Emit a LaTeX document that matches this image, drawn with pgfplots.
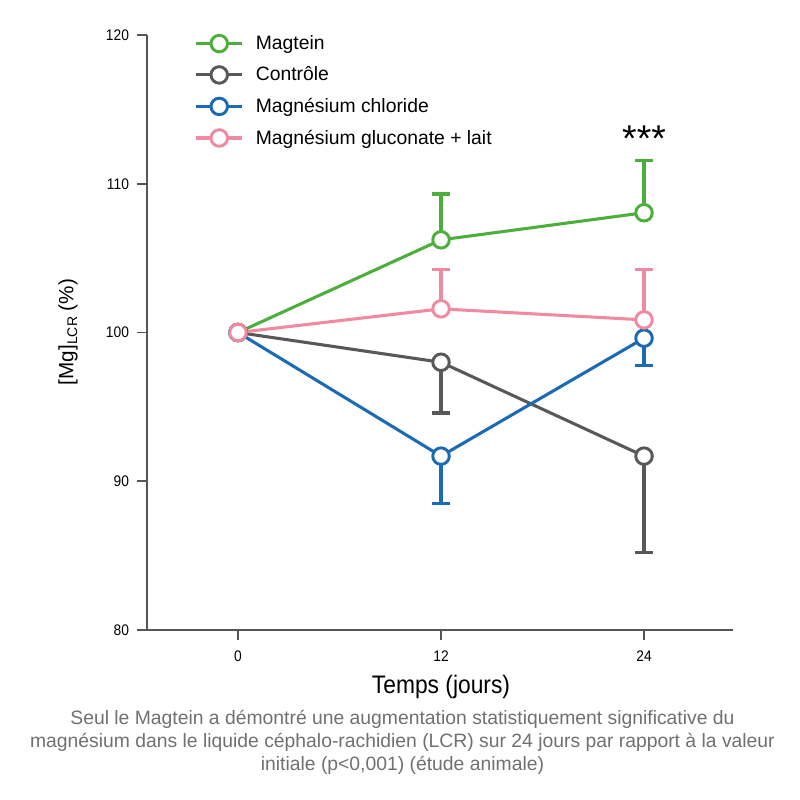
\documentclass[border=0pt]{standalone}
\usepackage{pgfplots}
\pgfplotsset{compat=1.18}
\usepackage{fontspec}
\setmainfont{Liberation Sans}
\newfontfamily\condfont{Liberation Sans}[FakeStretch=0.9]
\definecolor{cgreen}{HTML}{4CAE3B}
\definecolor{cgray}{HTML}{5A5857}
\definecolor{cblue}{HTML}{1A6AB4}
\definecolor{cpink}{HTML}{F08AA0}
\definecolor{axgray}{HTML}{555555}
\definecolor{captgray}{HTML}{707070}
\begin{document}
\begin{tikzpicture}
\useasboundingbox (-110.25pt,-127.5pt) rectangle (489.75pt,472.5pt);
\begin{axis}[
  at={(0pt,0pt)}, anchor=south west, scale only axis,
  width=439.5pt, height=446.25pt,
  xmin=-5.38, xmax=29.26, ymin=80, ymax=120,
  axis lines*=left,
  axis line style={axgray, line width=1.4pt},
  xtick={0,12,24}, ytick={80,90,100,110,120},
  tick align=outside, major tick length=7.5pt,
  tick style={axgray, line width=1.2pt},
  ticklabel style={font=\condfont\fontsize{11.5}{13}\selectfont, text=black},
  xticklabel style={yshift=-4.5pt},
  yticklabel style={xshift=-2.5pt},
  /pgf/number format/assume math mode=true,
  xlabel={Temps (jours)},
  xlabel style={font=\condfont\fontsize{19}{21}\selectfont, at={(rel axis cs:0.5017,0)}, anchor=center, yshift=-42.75pt},
  ylabel={[Mg]\raisebox{-0.35ex}{\fontsize{10.5}{11}\selectfont LCR} (\%)},
  ylabel style={font=\fontsize{15.5}{17}\selectfont, at={(axis description cs:-0.1348,0.5008)}, anchor=center},
  legend style={at={(rel axis cs:0.081,1.004)}, anchor=north west, draw=none, fill=none,
     font=\fontsize{14.5}{17}\selectfont, inner xsep=0pt, inner ysep=0pt, row sep=7.5pt,
     cells={anchor=west}, /tikz/every odd column/.append style={column sep=7pt}},
  legend image code/.code={\draw[mark repeat=2,mark phase=2] plot coordinates {(0pt,0pt)(17.25pt,0pt)(34.5pt,0pt)};},
  every axis plot/.append style={line width=2.3pt},
  clip=false,
]
% error bars (drawn first, one-sided)
\addplot[forget plot, cgreen, only marks, mark=none, error bars/.cd, y dir=plus, y explicit,
  error bar style={line width=2.6pt}, error mark options={rotate=90, mark size=6.6pt, line width=2.6pt}]
  coordinates {(12,106.23) +- (0,3.09) (24,108.05) +- (0,3.51)};
\addplot[forget plot, cgray, only marks, mark=none, error bars/.cd, y dir=minus, y explicit,
  error bar style={line width=2.6pt}, error mark options={rotate=90, mark size=6.6pt, line width=2.6pt}]
  coordinates {(12,98.00) +- (0,3.40) (24,91.69) +- (0,6.49)};
\addplot[forget plot, cblue, only marks, mark=none, error bars/.cd, y dir=minus, y explicit,
  error bar style={line width=2.6pt}, error mark options={rotate=90, mark size=6.6pt, line width=2.6pt}]
  coordinates {(12,91.69) +- (0,3.19) (24,99.62) +- (0,1.84)};
\addplot[forget plot, cpink, only marks, mark=none, error bars/.cd, y dir=plus, y explicit,
  error bar style={line width=2.6pt}, error mark options={rotate=90, mark size=6.6pt, line width=2.6pt}]
  coordinates {(12,101.59) +- (0,2.65) (24,100.85) +- (0,3.39)};
% lines (legend order)
\addplot[cgreen, mark=*, mark size=6.2pt, mark options={fill=white, draw=cgreen, line width=2.2pt}]
  coordinates {(0,100) (12,106.23) (24,108.05)};
\addlegendentry{Magtein}
\addplot[cgray, mark=*, mark size=6.2pt, mark options={fill=white, draw=cgray, line width=2.2pt}]
  coordinates {(0,100) (12,98.00) (24,91.69)};
\addlegendentry{Contrôle}
\addplot[cblue, mark=*, mark size=6.2pt, mark options={fill=white, draw=cblue, line width=2.2pt}]
  coordinates {(0,100) (12,91.69) (24,99.62)};
\addlegendentry{Magnésium chloride}
\addplot[cpink, mark=*, mark size=6.2pt, mark options={fill=white, draw=cpink, line width=2.2pt}]
  coordinates {(0,100) (12,101.59) (24,100.85)};
\addlegendentry{Magnésium gluconate + lait}
\node[anchor=base, font=\fontsize{28}{30}\selectfont, inner sep=0pt] at (axis cs:24,112.17) {***};
\end{axis}
\node[align=center, text=captgray, font=\fontsize{14.5}{17.25}\selectfont, anchor=center, inner sep=0pt]
  at (191.6pt,-84pt) {Seul le Magtein a démontré une augmentation statistiquement significative du\\
  magnésium dans le liquide céphalo-rachidien (LCR) sur 24 jours par rapport à la valeur\\
  initiale (p<0,001) (étude animale)};
\end{tikzpicture}
\end{document}
